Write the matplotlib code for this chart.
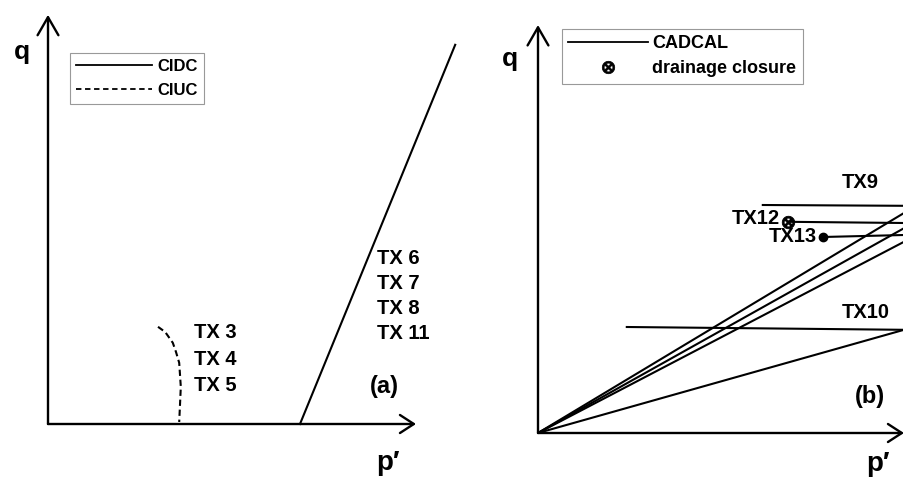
import matplotlib
matplotlib.use("Agg")
import matplotlib.pyplot as plt
from matplotlib.lines import Line2D

plt.rcParams['font.family'] = ['Liberation Sans', 'DejaVu Sans']
plt.rcParams['font.weight'] = 'bold'

# panel (a): stress paths, p' and q in arbitrary units
ciuc_p = [2.75, 2.93, 3.12, 3.2, 3.28, 3.3, 3.32, 3.3, 3.28]
ciuc_q = [2.43, 2.3, 2.03, 1.8, 1.53, 1.23, 0.93, 0.48, 0.05]
cidc_p = [6.3, 10.18]
cidc_q = [0.0, 9.48]
labels_a_left = ["TX 3", "TX 4", "TX 5"]
labels_a_right = ["TX 6", "TX 7", "TX 8", "TX 11"]

# panel (b): CADCAL paths, ending at the frame edge
p_edge = 9.15
diag_q_end = [5.5, 5.12, 4.78, 2.58]
horiz_names = ["TX9", "TX12", "TX13", "TX10"]
horiz_p_start = [5.62, 6.25, 7.12, 2.22]
horiz_q_start = [5.70, 5.28, 4.90, 2.65]
horiz_q_end = [5.68, 5.25, 4.95, 2.58]

W, H = 904, 480
fig = plt.figure(figsize=(W / 100, H / 100), dpi=100)

arrow_x = dict(arrowstyle='->,head_length=1.0,head_width=0.65', lw=1.7,
               color='k', shrinkA=0, shrinkB=0)
arrow_y = dict(arrowstyle='->,head_length=1.3,head_width=0.75', lw=1.7,
               color='k', shrinkA=0, shrinkB=0)
LW = 1.5
legend_font = dict(family=['Liberation Sans Narrow', 'Liberation Sans'],
                   weight='bold', size=12)

# ---- panel (a)
ax1 = fig.add_axes([48 / W, 56 / H, 420 / W, 420 / H])
ax1.set_xlim(0, 10.5)
ax1.set_ylim(0, 10.5)
ax1.axis('off')
ax1.annotate('', xy=(9.2, 0), xytext=(0, 0), arrowprops=arrow_x,
             annotation_clip=False)
ax1.annotate('', xy=(0, 10.23), xytext=(0, 0), arrowprops=arrow_y,
             annotation_clip=False)
ax1.plot(cidc_p, cidc_q, color='k', lw=LW, clip_on=False)
ax1.plot(ciuc_p, ciuc_q, color='k', lw=LW, ls=(0, (3, 1.8)), clip_on=False)

for i, s in enumerate(labels_a_left):
    ax1.text(3.65, 2.28 - i * 0.66, s, fontsize=14.5, fontweight='bold', va='center')
for i, s in enumerate(labels_a_right):
    ax1.text(8.22, 4.15 - i * 0.63, s, fontsize=14.5, fontweight='bold', va='center')
ax1.text(8.4, 0.93, "(a)", fontsize=17, fontweight='bold', va='center', ha='center')
ax1.text(-0.65, 9.3, "q", fontsize=19, fontweight='bold', va='center', ha='center')
ax1.text(8.5, -0.98, "p\u2032", fontsize=20, fontweight='bold', va='center', ha='center')

h1 = [Line2D([], [], color='k', lw=1.3),
      Line2D([], [], color='k', lw=1.3, ls=(0, (3, 2)))]
leg1 = ax1.legend(h1, ["CIDC", "CIUC"], loc='upper left',
                  bbox_to_anchor=(70 / W, 1 - 53 / H), bbox_transform=fig.transFigure,
                  borderaxespad=0, fancybox=False, framealpha=1, edgecolor='#999999',
                  handlelength=4.6, handletextpad=0.3, borderpad=0.35, labelspacing=0.55,
                  prop=legend_font)
leg1.get_frame().set_linewidth(0.8)

# ---- panel (b)
ax2 = fig.add_axes([538 / W, 47 / H, 366 / W, 420 / H])
ax2.set_xlim(0, p_edge)
ax2.set_ylim(0, 10.5)
ax2.axis('off')
ax2.annotate('', xy=(p_edge, 0), xytext=(0, 0), arrowprops=arrow_x,
             annotation_clip=False)
ax2.annotate('', xy=(0, 10.2), xytext=(0, 0), arrowprops=arrow_y,
             annotation_clip=False)
for q_end in diag_q_end:
    ax2.plot([0, p_edge], [0, q_end], color='k', lw=LW)
for p0, q0, q1 in zip(horiz_p_start, horiz_q_start, horiz_q_end):
    ax2.plot([p0, p_edge], [q0, q1], color='k', lw=LW)

ax2.plot(horiz_p_start[1], horiz_q_start[1], marker='$\\otimes$', ms=9,
         color='k', mew=0.6)
ax2.plot(horiz_p_start[2], horiz_q_start[2], marker='o', ms=6, color='k')

ax2.text(7.6, 6.27, horiz_names[0], fontsize=14.5, fontweight='bold', va='center')
ax2.text(6.05, 5.35, horiz_names[1], fontsize=14.5, fontweight='bold', va='center', ha='right')
ax2.text(6.97, 4.9, horiz_names[2], fontsize=14.5, fontweight='bold', va='center', ha='right')
ax2.text(7.6, 3.0, horiz_names[3], fontsize=14.5, fontweight='bold', va='center')
ax2.text(8.3, 0.9, "(b)", fontsize=17, fontweight='bold', va='center', ha='center')
ax2.text(-0.7, 9.35, "q", fontsize=19, fontweight='bold', va='center', ha='center')
ax2.text(8.5, -0.78, "p\u2032", fontsize=20, fontweight='bold', va='center', ha='center')

h2 = [Line2D([], [], color='k', lw=1.3),
      Line2D([], [], color='k', ls='none', marker='$\\otimes$', ms=9, mew=0.5)]
leg2 = ax2.legend(h2, ["CADCAL", "drainage closure"], loc='upper left',
                  bbox_to_anchor=(562 / W, 1 - 29 / H), bbox_transform=fig.transFigure,
                  borderaxespad=0, fancybox=False, framealpha=1, edgecolor='#999999',
                  handlelength=4.4, handletextpad=0.25, borderpad=0.35, labelspacing=0.45,
                  prop=dict(legend_font, size=13))
leg2.get_frame().set_linewidth(0.8)

fig.savefig("out.png", dpi=100)
